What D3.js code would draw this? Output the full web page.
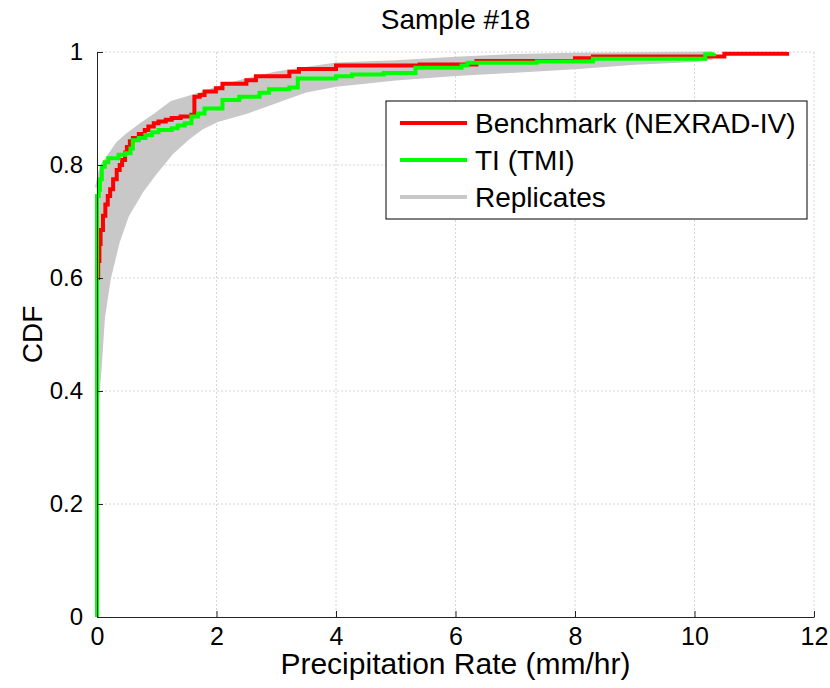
<!DOCTYPE html>
<html>
<head>
<meta charset="utf-8">
<script src="https://cdn.jsdelivr.net/npm/d3@7/dist/d3.min.js"></script>
<style>
  body { margin: 0; background: #fff; }
  svg text { font-family: "Liberation Sans", Arial, sans-serif; fill: #000; }
  .axis path, .axis line { stroke: #222; }
  .grid line { stroke: #d4d4d4; stroke-dasharray: 2,2; }
</style>
</head>
<body>
<svg id="chart" width="830" height="688"></svg>
<script>
// benchmark CDF (NEXRAD-IV), [rate, cdf] step points
var benchmark = [
  [0, 0], [0, 0.60], [0.02, 0.63], [0.04, 0.66], [0.06, 0.685], [0.1, 0.71], [0.14, 0.73],
  [0.18, 0.745], [0.22, 0.757], [0.27, 0.775], [0.33, 0.791], [0.38, 0.80], [0.42, 0.809],
  [0.47, 0.822], [0.5, 0.832], [0.55, 0.842], [0.6, 0.848], [0.7, 0.855], [0.8, 0.862],
  [0.86, 0.868], [0.95, 0.874], [1.03, 0.877], [1.15, 0.88], [1.25, 0.883], [1.4, 0.886],
  [1.58, 0.889], [1.63, 0.921], [1.72, 0.924], [1.8, 0.93], [1.99, 0.936], [2.1, 0.944],
  [2.5, 0.95], [2.66, 0.957], [3.22, 0.965], [3.38, 0.97], [4.0, 0.976], [5.4, 0.978],
  [6.35, 0.984], [8.0, 0.989], [8.3, 0.992], [10.5, 0.997], [11.55, 1.0]
];

// training image CDF (TMI)
var trainingImage = [
  [0, 0], [0, 0.745], [0.03, 0.756], [0.05, 0.775], [0.08, 0.797], [0.13, 0.805], [0.19, 0.812],
  [0.36, 0.818], [0.47, 0.821], [0.56, 0.829], [0.6, 0.844], [0.7, 0.848], [0.81, 0.853],
  [0.92, 0.858], [1.03, 0.862], [1.25, 0.865], [1.35, 0.87], [1.47, 0.874], [1.58, 0.886],
  [1.69, 0.891], [1.8, 0.90], [2.1, 0.915], [2.38, 0.921], [2.72, 0.928], [2.88, 0.934],
  [3.22, 0.937], [3.36, 0.953], [4.0, 0.957], [4.27, 0.96], [4.8, 0.963], [5.33, 0.972],
  [6.1, 0.976], [6.2, 0.981], [7.36, 0.983], [8.3, 0.988], [10.18, 0.996], [10.33, 0.998]
];

// replicates, sampled on a shared rate grid
var repX = [0, 0.05, 0.1, 0.2, 0.35, 0.5, 0.75, 1.0, 1.25, 1.5, 1.75, 2.0, 2.5, 3.0, 3.5, 4.0, 5.0, 6.0, 7.0, 8.0, 9.0, 10.0, 10.3];
var repLow  = [0.38, 0.45, 0.53, 0.60, 0.665, 0.71, 0.755, 0.79, 0.822, 0.846, 0.866, 0.879, 0.894, 0.913, 0.932, 0.942, 0.953, 0.961, 0.967, 0.973, 0.981, 0.986, 0.99];
var repMid1 = [0.55, 0.62, 0.68, 0.72, 0.76, 0.785, 0.815, 0.84, 0.862, 0.88, 0.895, 0.905, 0.92, 0.935, 0.948, 0.958, 0.967, 0.974, 0.979, 0.984, 0.988, 0.992, 0.995];
var repMid2 = [0.66, 0.72, 0.75, 0.775, 0.805, 0.825, 0.848, 0.868, 0.888, 0.9, 0.912, 0.92, 0.936, 0.95, 0.96, 0.968, 0.975, 0.981, 0.986, 0.99, 0.993, 0.995, 0.997];
var repHigh = [0.76, 0.785, 0.80, 0.815, 0.838, 0.852, 0.872, 0.89, 0.91, 0.918, 0.926, 0.935, 0.95, 0.962, 0.97, 0.978, 0.982, 0.988, 0.993, 0.995, 0.996, 0.997, 0.998];
var replicates = [repLow, repMid1, repMid2, repHigh];

var xTicks = [0, 2, 4, 6, 8, 10, 12];
var yTicks = [0, 0.2, 0.4, 0.6, 0.8, 1];

var legendItems = [
  {label: "Benchmark (NEXRAD-IV)", color: "#ff0000"},
  {label: "TI (TMI)", color: "#00ff00"},
  {label: "Replicates", color: "#c8c8c8"}
];

var svg = d3.select("#chart"),
    margin = {top: 52, right: 16, bottom: 71, left: 97},
    width = +svg.attr("width") - margin.left - margin.right,
    height = +svg.attr("height") - margin.top - margin.bottom;

var x = d3.scaleLinear().domain([0, 12]).range([0, width]),
    y = d3.scaleLinear().domain([0, 1]).range([height, 0]);

var g = svg.append("g")
    .attr("transform", "translate(" + margin.left + "," + margin.top + ")");

// dotted grid
g.append("g").attr("class", "grid")
  .selectAll("line").data(xTicks.slice(1)).enter().append("line")
    .attr("x1", function (d) { return x(d); })
    .attr("x2", function (d) { return x(d); })
    .attr("y1", 0).attr("y2", height);
g.append("g").attr("class", "grid")
  .selectAll("line").data(yTicks.slice(1)).enter().append("line")
    .attr("y1", function (d) { return y(d); })
    .attr("y2", function (d) { return y(d); })
    .attr("x1", 0).attr("x2", width);

// replicates band (spread of the replicate curves) + the curves
var band = d3.area()
    .x(function (d, i) { return x(repX[i]); })
    .y0(function (d, i) { return y(d3.min(replicates, function (r) { return r[i]; })); })
    .y1(function (d, i) { return y(d3.max(replicates, function (r) { return r[i]; })); });

g.append("path")
    .datum(repX)
    .attr("fill", "#c8c8c8")
    .attr("d", band);

var repLine = d3.line()
    .x(function (d, i) { return x(repX[i]); })
    .y(function (d) { return y(d); });

g.selectAll(".rep").data(replicates).enter().append("path")
    .attr("class", "rep")
    .attr("fill", "none")
    .attr("stroke", "#c8c8c8")
    .attr("stroke-width", 4)
    .attr("d", repLine);

var stepLine = d3.line()
    .curve(d3.curveStepAfter)
    .x(function (d) { return x(d[0]); })
    .y(function (d) { return y(d[1]); });

g.append("path")
    .datum(benchmark)
    .attr("fill", "none")
    .attr("stroke", "#ff0000")
    .attr("stroke-width", 4)
    .attr("d", stepLine);

g.append("path")
    .datum(trainingImage)
    .attr("fill", "none")
    .attr("stroke", "#00ff00")
    .attr("stroke-width", 4)
    .attr("d", stepLine);

// axes, ticks pointing inward
var xAxis = d3.axisBottom(x).tickValues(xTicks).tickFormat(d3.format(""))
    .tickSize(-6).tickSizeOuter(0).tickPadding(10);
var yAxis = d3.axisLeft(y).tickValues(yTicks).tickFormat(d3.format(""))
    .tickSize(-6).tickSizeOuter(0).tickPadding(14);

g.append("g")
    .attr("class", "axis")
    .attr("transform", "translate(0," + height + ")")
    .call(xAxis)
    .selectAll("text").style("font-size", "25px").attr("fill", "#000");

g.append("g")
    .attr("class", "axis")
    .call(yAxis)
    .selectAll("text").style("font-size", "24px").attr("fill", "#000");

// titles
svg.append("text")
    .attr("x", margin.left + width / 2)
    .attr("y", 29)
    .attr("text-anchor", "middle")
    .style("font-size", "28px")
    .text("Sample #18");

svg.append("text")
    .attr("x", margin.left + width / 2)
    .attr("y", 674)
    .attr("text-anchor", "middle")
    .style("font-size", "30px")
    .text("Precipitation Rate (mm/hr)");

svg.append("text")
    .attr("transform", "translate(42," + (margin.top + height / 2) + ") rotate(-90)")
    .attr("text-anchor", "middle")
    .style("font-size", "28px")
    .text("CDF");

// legend
var legend = svg.append("g")
    .attr("transform", "translate(386,101)");

legend.append("rect")
    .attr("width", 421)
    .attr("height", 118)
    .attr("fill", "#fff")
    .attr("stroke", "#000");

var row = legend.selectAll(".row").data(legendItems).enter().append("g")
    .attr("class", "row")
    .attr("transform", function (d, i) { return "translate(0," + (22 + i * 37) + ")"; });

row.append("line")
    .attr("x1", 14).attr("x2", 81)
    .attr("stroke", function (d) { return d.color; })
    .attr("stroke-width", 4);

row.append("text")
    .attr("x", 89)
    .attr("dy", "0.36em")
    .style("font-size", "28px")
    .text(function (d) { return d.label; });
</script>
</body>
</html>
